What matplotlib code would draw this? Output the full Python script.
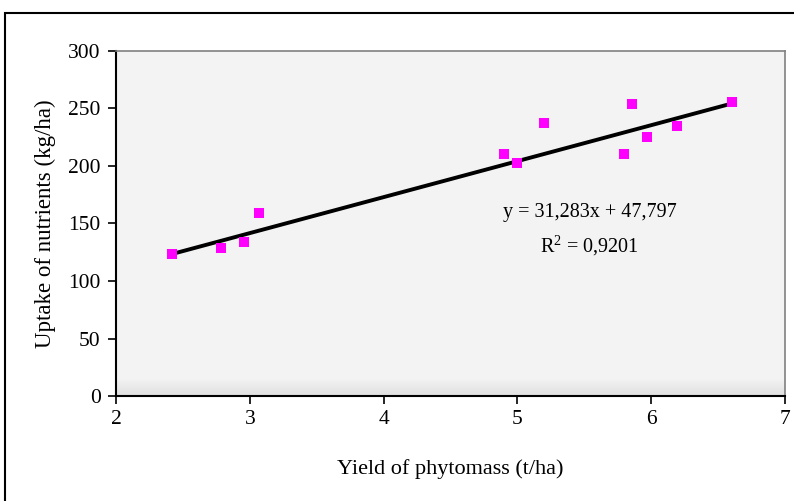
import matplotlib
matplotlib.use("Agg")
import matplotlib.pyplot as plt
import numpy as np
from matplotlib.patches import Rectangle

plt.rcParams['font.family'] = ['Liberation Serif', 'DejaVu Serif']
plt.rcParams['mathtext.fontset'] = 'custom'
plt.rcParams['mathtext.rm'] = 'Liberation Serif'
plt.rcParams['mathtext.it'] = 'Liberation Serif:italic'

# Data
yield_t_ha = [2.42, 2.785, 2.957, 3.069, 4.90, 4.997, 5.199, 5.797, 5.857, 5.969, 6.193, 6.604]
uptake_kg_ha = [123.5, 128.5, 134, 159, 210.5, 203, 237.5, 210.5, 254, 225.5, 234.5, 255.5]
slope = 31.283
intercept = 47.797
eq_text = "y = 31,283x + 47,797"
r2_text = "R$^2$ = 0,9201"
x_ticks = [2, 3, 4, 5, 6, 7]
y_ticks = [0, 50, 100, 150, 200, 250, 300]

W, H = 794, 501
fig = plt.figure(figsize=(W/100, H/100), dpi=100)
# axes: left 116, right 785, top 51, bottom 396 (pixels)
ax = fig.add_axes([116/W, 1-396/H, (785-116)/W, (396-51)/H])

# gradient background
n = 100
vals = np.full(n, 0.957)
k = 6
vals[-k:] = np.linspace(0.957, 0.88, k)
img = np.repeat(vals[:, None], 2, axis=1)
ax.imshow(img, cmap='gray', vmin=0, vmax=1, extent=[0, 1, 0, 1], transform=ax.transAxes,
          aspect='auto', zorder=0, interpolation='bilinear')

ax.set_xlim(2, 7)
ax.set_ylim(0, 300)

xs = np.array([min(yield_t_ha), max(yield_t_ha)])
ax.plot(xs, slope*xs + intercept, color='black', lw=2.8, zorder=2, solid_capstyle='butt')
ax.plot(yield_t_ha, uptake_kg_ha, 's', color='#FF00FF', markersize=7.5, zorder=3, markeredgewidth=0)

ax.set_xticks(x_ticks)
ax.set_yticks(y_ticks)
ax.tick_params(axis='both', direction='out', length=6, width=1.2, labelsize=15.5, color='black')
ax.tick_params(axis='y', pad=5)
ax.tick_params(axis='x', pad=4)

for s in ['left', 'bottom']:
    ax.spines[s].set_color('black')
    ax.spines[s].set_linewidth(1.5)
for s in ['top', 'right']:
    ax.spines[s].set_color('#808080')
    ax.spines[s].set_linewidth(1.2)

ax.set_xlabel('Yield of phytomass (t/ha)', fontsize=16, labelpad=22)
ax.set_ylabel('Uptake of nutrients (kg/ha)', fontsize=16.5, labelpad=9)

ax.text(590/W, 1-213/H, eq_text, transform=fig.transFigure, fontsize=14.5, ha='center', va='center')
ax.text(589/W, 1-246/H, r2_text, transform=fig.transFigure, fontsize=14.5, ha='center', va='center')

fig.patches.append(Rectangle((5/W, -0.01), 1.0, 1-13/H+0.01, transform=fig.transFigure,
                             fill=False, edgecolor='black', lw=1.5))

fig.savefig('out.png', dpi=100)
